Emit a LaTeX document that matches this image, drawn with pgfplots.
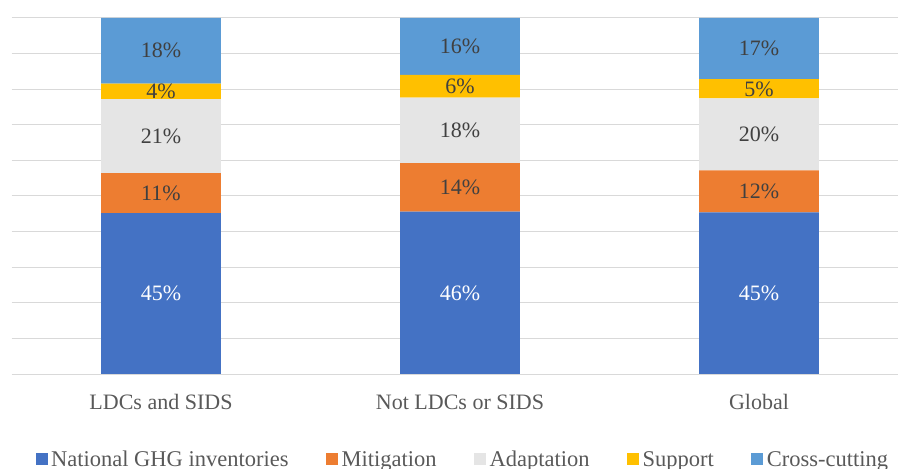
\documentclass[border=0pt]{standalone}
\usepackage{pgfplots}
\pgfplotsset{compat=1.18}
\usepackage{pgfplotstable}
\usepackage{fontspec}
\setmainfont{Liberation Serif}
\definecolor{cNat}{HTML}{4472C4}
\definecolor{cMit}{HTML}{ED7D31}
\definecolor{cAda}{HTML}{E5E5E5}
\definecolor{cSup}{HTML}{FFC000}
\definecolor{cCro}{HTML}{5B9BD5}
\definecolor{tickc}{HTML}{595959}
\definecolor{lblc}{HTML}{404040}
\definecolor{gridc}{HTML}{D9D9D9}
\pgfplotstableread{
x nat mit ada sup cro
0 45.2 11.2 20.8 4.4 18.4
1 45.6 13.6 18.4 6.4 16.0
2 45.4 11.8 20.2 5.4 17.2
}\datatable
\newcommand{\bigf}{\fontsize{22bp}{26bp}\selectfont}
\newcommand{\legf}{\fontsize{22.5bp}{26bp}\selectfont}
\begin{document}
\begin{tikzpicture}
\useasboundingbox (0,0) rectangle (898bp,469bp);
\clip (0,0) rectangle (898bp,469bp);
\begin{axis}[
  at={(11.5bp,95bp)}, anchor=south west,
  scale only axis, width=897bp, height=356bp,
  ybar stacked, bar width=0.4,
  xmin=-0.5, xmax=2.5, ymin=0, ymax=100,
  xtick={0,1,2},
  xticklabels={LDCs and SIDS, Not LDCs or SIDS, Global},
  ytick={0,10,...,100}, yticklabels={},
  ymajorgrids, grid style={draw=gridc, line width=1bp},
  axis line style={draw=none}, major tick length=0,
  xticklabel style={font=\bigf, text=tickc, anchor=base, yshift=-35bp},
  point meta=explicit,
  nodes near coords={\pgfmathprintnumber{\pgfplotspointmeta}\%},
  /pgf/number format/fixed, /pgf/number format/precision=0,
  /pgf/number format/assume math mode=true,
  every node near coord/.append style={font=\bigf, text=lblc, anchor=center},
  legend columns=5,
  legend style={at={(0.504,-0.240)}, anchor=center, draw=none, fill=none,
     font=\legf, text=tickc,
     nodes={inner xsep=3.5bp},
     /tikz/every even column/.append style={column sep=34bp}},
  legend image code/.code={\fill[#1] (0bp,-6bp) rectangle (12bp,6bp);},
]
\addplot[fill=cNat, draw=none, every node near coord/.append style={text=white}] table[x=x, y=nat, meta=nat]{\datatable};
\addplot[fill=cMit, draw=none] table[x=x, y=mit, meta=mit]{\datatable};
\addplot[fill=cAda, draw=none] table[x=x, y=ada, meta=ada]{\datatable};
\addplot[fill=cSup, draw=none] table[x=x, y=sup, meta=sup]{\datatable};
\addplot[fill=cCro, draw=none] table[x=x, y=cro, meta=cro]{\datatable};
\legend{National GHG inventories, Mitigation, Adaptation, Support, Cross-cutting}
\end{axis}
\end{tikzpicture}
\end{document}
